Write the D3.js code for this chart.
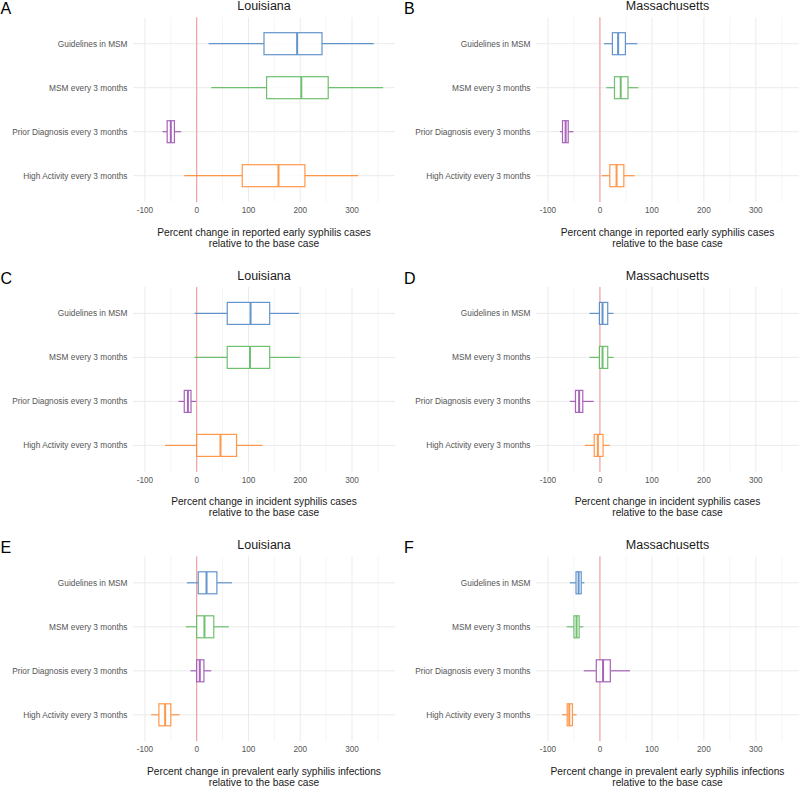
<!DOCTYPE html>
<html>
<head>
<meta charset="utf-8">
<script src="https://cdn.jsdelivr.net/npm/d3@7"></script>
<style>
  html, body { margin: 0; padding: 0; background: #fff; }
  svg { display: block; font-family: "Liberation Sans", Arial, Helvetica, sans-serif; }
</style>
</head>
<body>
<svg id="chart" width="800" height="787"></svg>
<script>
// ---- data ----
const categories = ["Guidelines in MSM", "MSM every 3 months", "Prior Diagnosis every 3 months", "High Activity every 3 months"];
const seriesColors = ["#4f86c6", "#5cb85c", "#9b4fb0", "#ff8a33"];
const panelLetters = ["A", "B", "C", "D", "E", "F"];
const panelStates = ["Louisiana", "Massachusetts", "Louisiana", "Massachusetts", "Louisiana", "Massachusetts"];
const xTitleLine1 = [
  "Percent change in reported early syphilis cases",
  "Percent change in reported early syphilis cases",
  "Percent change in incident syphilis cases",
  "Percent change in incident syphilis cases",
  "Percent change in prevalent early syphilis infections",
  "Percent change in prevalent early syphilis infections"
];
const xTitleLine2 = "relative to the base case";
const xTicks = [-100, 0, 100, 200, 300];
const xMinorTicks = [-50, 50, 150, 250, 350];

// [lower whisker, Q1, median, Q3, upper whisker] per category
const reportedLA = [[23, 130, 194, 242, 342], [28, 135, 202, 254, 360], [-66, -57, -50, -43, -30], [-24, 88, 158, 209, 312]];
const reportedMA = [[8, 24, 35, 49, 72], [12, 28, 40, 54, 74], [-77, -72, -66, -61, -51], [3, 19, 32, 46, 67]];
const incidentLA = [[-4, 59, 104, 141, 198], [-4, 59, 103, 141, 200], [-35, -24, -17, -11, -1], [-61, 0, 46, 77, 127]];
const incidentMA = [[-20, -1, 5, 15, 26], [-20, -1, 5, 15, 26], [-58, -47, -40, -33, -12], [-29, -11, -4, 6, 19]];
const prevalentLA = [[-19, 3, 19, 39, 68], [-21, 0, 15, 33, 62], [-12, 0, 6, 14, 28], [-88, -73, -61, -50, -33]];
const prevalentMA = [[-58, -46, -41, -36, -30], [-64, -50, -45, -40, -32], [-31, -7, 6, 20, 58], [-73, -63, -59, -53, -45]];
const panelData = [reportedLA, reportedMA, incidentLA, incidentMA, prevalentLA, prevalentMA];

// ---- layout ----
const svg = d3.select("#chart");
const colLeft = [133, 536];
const colRight = [395, 799];
const rowTop = [17.3, 287, 556.4];
const panelH = 184.8;
const xDomain = [-123, 383];

panelData.forEach((data, i) => {
  const col = i % 2, row = Math.floor(i / 2);
  const x0 = colLeft[col], x1 = colRight[col];
  const y0 = rowTop[row], y1 = y0 + panelH;
  const x = d3.scaleLinear().domain(xDomain).range([x0, x1]);
  const y = d3.scalePoint().domain(categories).range([y0, y1]).padding(0.6);
  const step = y.step();
  const g = svg.append("g");

  // grid
  g.selectAll(".minor").data(xMinorTicks).join("line")
    .attr("x1", d => x(d)).attr("x2", d => x(d)).attr("y1", y0).attr("y2", y1)
    .attr("stroke", "#f0f0f0").attr("stroke-width", 0.7);
  g.selectAll(".major").data(xTicks).join("line")
    .attr("x1", d => x(d)).attr("x2", d => x(d)).attr("y1", y0).attr("y2", y1)
    .attr("stroke", "#ebebeb").attr("stroke-width", 1);
  g.selectAll(".hgrid").data(categories).join("line")
    .attr("x1", x0).attr("x2", x1).attr("y1", d => y(d)).attr("y2", d => y(d))
    .attr("stroke", "#ebebeb").attr("stroke-width", 1);

  // reference line at 0
  g.append("line").attr("x1", x(0)).attr("x2", x(0)).attr("y1", y0).attr("y2", y1)
    .attr("stroke", "#f4939b").attr("stroke-width", 1);

  // boxes
  const half = step * 0.25;
  data.forEach((s, k) => {
    const cy = y(categories[k]);
    const c = seriesColors[k];
    const bg = g.append("g").attr("stroke", c).attr("fill", "none").attr("opacity", 0.88);
    bg.append("line").attr("x1", x(s[0])).attr("x2", x(s[1])).attr("y1", cy).attr("y2", cy).attr("stroke-width", 1.2);
    bg.append("line").attr("x1", x(s[3])).attr("x2", x(s[4])).attr("y1", cy).attr("y2", cy).attr("stroke-width", 1.2);
    bg.append("rect").attr("x", x(s[1])).attr("y", cy - half).attr("width", x(s[3]) - x(s[1])).attr("height", 2 * half)
      .attr("fill", "#fff").attr("stroke-width", 1.2);
    bg.append("line").attr("x1", x(s[2])).attr("x2", x(s[2])).attr("y1", cy - half).attr("y2", cy + half).attr("stroke-width", 2);
  });

  // y labels
  g.selectAll(".ylab").data(categories).join("text")
    .attr("x", x0 - 5.5).attr("y", d => y(d) + 2.9)
    .attr("text-anchor", "end").attr("font-size", 8.3).attr("fill", "#555")
    .text(d => d);

  // x tick labels
  g.selectAll(".xlab").data(xTicks).join("text")
    .attr("x", d => x(d)).attr("y", y1 + 11)
    .attr("text-anchor", "middle").attr("font-size", 8.2).attr("fill", "#555")
    .text(d => d);

  const cx = (x0 + x1) / 2;
  // title
  g.append("text").attr("x", cx).attr("y", y0 - 7).attr("text-anchor", "middle")
    .attr("font-size", 12.5).attr("fill", "#1a1a1a").text(panelStates[i]);
  // x axis title
  g.append("text").attr("x", cx).attr("y", y1 + 33.5).attr("text-anchor", "middle")
    .attr("font-size", 10.2).attr("fill", "#1a1a1a").text(xTitleLine1[i]);
  g.append("text").attr("x", cx).attr("y", y1 + 44.5).attr("text-anchor", "middle")
    .attr("font-size", 10.2).attr("fill", "#1a1a1a").text(xTitleLine2);
  // panel letter
  g.append("text").attr("x", col === 0 ? 0.5 : 404).attr("y", y0 - 3.5)
    .attr("font-size", 16).attr("fill", "#000").text(panelLetters[i]);
});
</script>
</body>
</html>
